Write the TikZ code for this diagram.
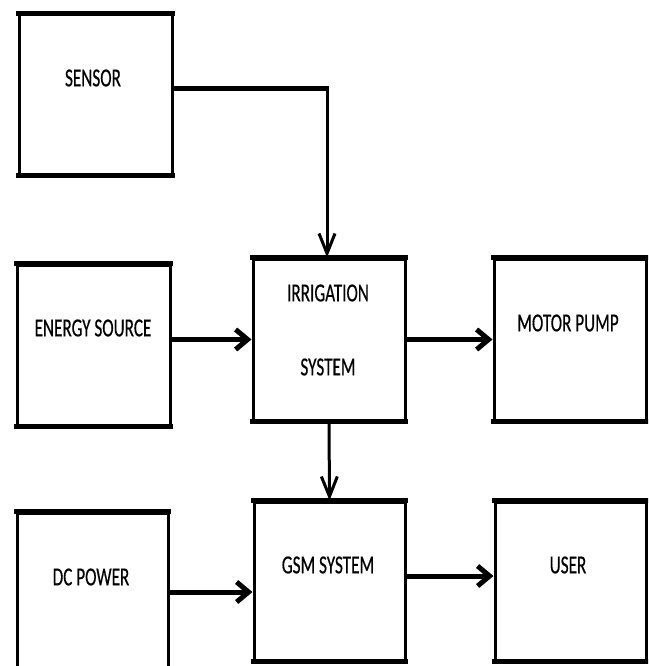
\documentclass[tikz,border=0pt]{standalone}
\usepackage{fontspec}
\newfontfamily\labfont[FakeStretch=0.66,FakeBold=0.4]{Carlito}
\usetikzlibrary{arrows.meta}
\begin{document}
\begin{tikzpicture}[x=1pt,y=-1pt,
  blk/.style={draw, line width=3pt, inner sep=0pt, fill=white},
  lab/.style={font=\labfont\fontsize{26}{30}\selectfont, inner sep=0pt, text=black},
  harrow/.style={line width=5pt, -{Straight Barb[length=12pt,width=20pt]}},
  varrow/.style={line width=3pt, -{Straight Barb[length=20pt,width=16pt]}},
  hline/.style={line width=5pt},
  edge/.style={line width=5pt}]
\useasboundingbox (0,0) rectangle (648,666);
\clip (0,0) rectangle (648,666);
% boxes
\node[blk, minimum width=153pt, minimum height=159pt] (sensor) at (95.5,94.5) {};
\node[blk, minimum width=153pt, minimum height=160pt] (energy) at (93.5,345) {};
\node[blk, minimum width=152pt, minimum height=161pt] (irr) at (329,339.5) {};
\node[blk, minimum width=152pt, minimum height=161pt] (motor) at (570,339.5) {};
\node[blk, minimum width=151pt, minimum height=174pt] (dc) at (92.5,600) {};
\node[blk, minimum width=151pt, minimum height=158pt] (gsm) at (329.5,581) {};
\node[blk, minimum width=151pt, minimum height=158pt] (user) at (570.5,581) {};
\foreach \n in {sensor,energy,irr,motor,dc,gsm,user}{
  \draw[edge] ([xshift=-1.5pt]\n.north west) -- ([xshift=1.5pt]\n.north east);
  \draw[edge] ([xshift=-1.5pt]\n.south west) -- ([xshift=1.5pt]\n.south east);
}
% labels
\node[lab] (tsensor) at (93,78) {SENSOR};
\node[lab] (tenergy) at (93,328) {ENERGY SOURCE};
\node[lab] (tirr1) at (328,293) {IRRIGATION};
\node[lab] (tirr2) at (328,367) {SYSTEM};
\node[lab] (tmotor) at (568,323) {MOTOR PUMP};
\node[lab] (tdc) at (91,577) {DC POWER};
\node[lab] (tgsm) at (328,565) {GSM SYSTEM};
\node[lab] (tuser) at (568,565) {USER};
% connectors
\coordinate (bend) at (327,89);
\coordinate (gsmin) at ([yshift=-11pt]gsm.west);
\coordinate (userin) at ([yshift=5pt]user.west);
\draw[hline] (sensor.east |- bend) -- ([xshift=1.5pt]bend);
\draw[varrow] (bend) -- (bend |- irr.north);
\draw[harrow] (energy.east |- irr.west) -- (irr.west);
\draw[harrow] (irr.east) -- (motor.west);
\draw[varrow] (irr.south) -- (gsm.north);
\draw[harrow] (dc.east |- gsmin) -- (gsmin);
\draw[harrow] (gsm.east |- userin) -- (userin);
\end{tikzpicture}
\end{document}
